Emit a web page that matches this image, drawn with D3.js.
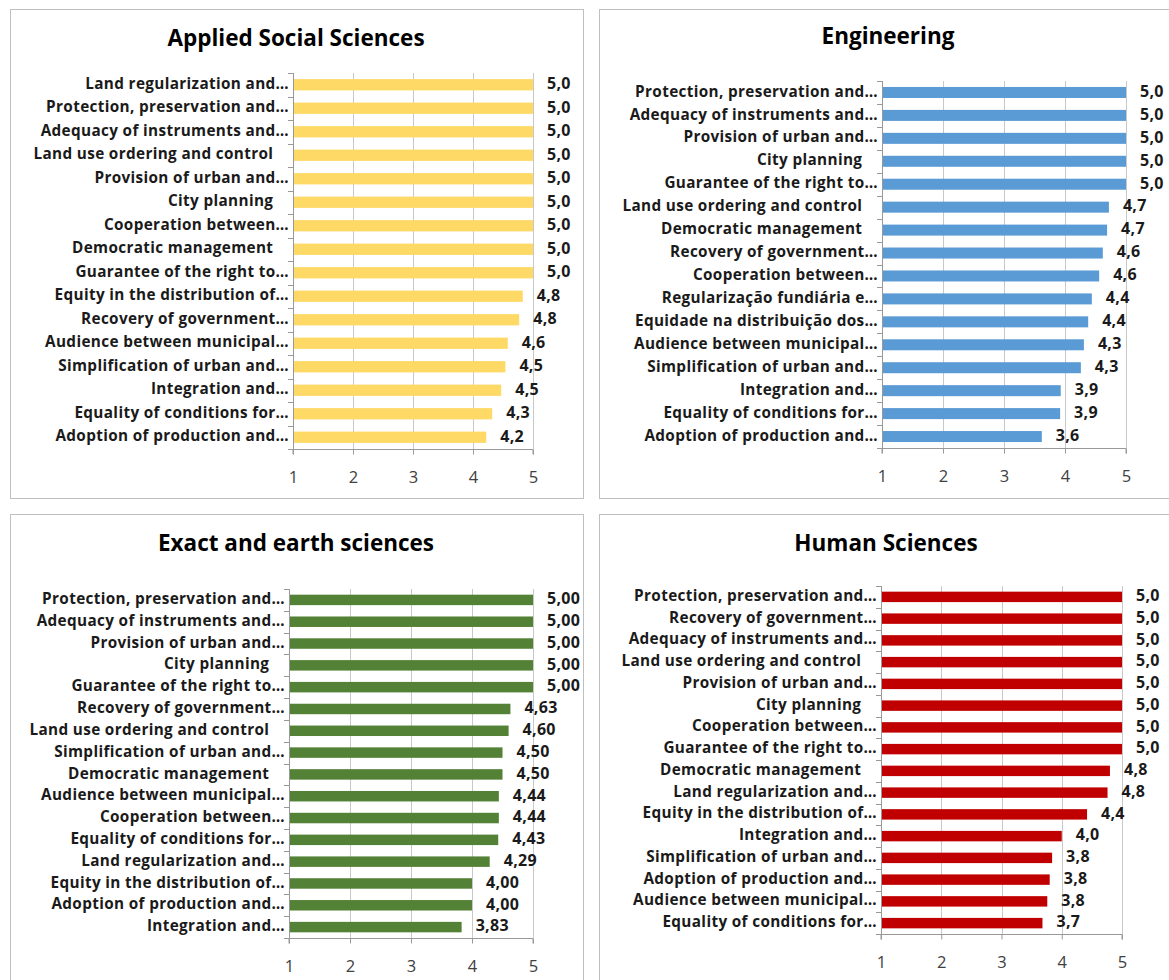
<!DOCTYPE html>
<html>
<head>
<meta charset="utf-8">
<script src="https://cdn.jsdelivr.net/npm/d3@7"></script>
<style>
  body { margin: 0; background: #fff; }
  svg { font-family: "Open Sans", "Liberation Sans", sans-serif; }
</style>
</head>
<body>
<svg id="chart" width="1169" height="980"></svg>
<script>
// ---- data ----
const titles = ["Applied Social Sciences", "Engineering", "Exact and earth sciences", "Human Sciences"];

const socialCats = [
    "Land regularization and…", "Protection, preservation and…", "Adequacy of instruments and…",
    "Land use ordering and control\u2003", "Provision of urban and…", "City planning\u2003",
    "Cooperation between…", "Democratic management\u2003", "Guarantee of the right to…",
    "Equity in the distribution of…", "Recovery of government…", "Audience between municipal…",
    "Simplification of urban and…", "Integration and…", "Equality of conditions for…",
    "Adoption of production and…"
];
const socialVals = [5, 5, 5, 5, 5, 5, 5, 5, 5, 4.83, 4.77, 4.58, 4.54, 4.47, 4.32, 4.22];

const engCats = [
    "Protection, preservation and…", "Adequacy of instruments and…", "Provision of urban and…",
    "City planning\u2003", "Guarantee of the right to…", "Land use ordering and control\u2003",
    "Democratic management\u2003", "Recovery of government…", "Cooperation between…",
    "Regularização fundiária e…", "Equidade na distribuição dos…", "Audience between municipal…",
    "Simplification of urban and…", "Integration and…", "Equality of conditions for…",
    "Adoption of production and…"
];
const engVals = [5, 5, 5, 5, 5, 4.72, 4.69, 4.62, 4.56, 4.44, 4.38, 4.31, 4.26, 3.93, 3.92, 3.62];

const exactCats = [
    "Protection, preservation and…", "Adequacy of instruments and…", "Provision of urban and…",
    "City planning\u2003", "Guarantee of the right to…", "Recovery of government…",
    "Land use ordering and control\u2003", "Simplification of urban and…", "Democratic management\u2003",
    "Audience between municipal…", "Cooperation between…", "Equality of conditions for…",
    "Land regularization and…", "Equity in the distribution of…", "Adoption of production and…",
    "Integration and…"
];
const exactVals = [5, 5, 5, 5, 5, 4.63, 4.60, 4.50, 4.50, 4.44, 4.44, 4.43, 4.29, 4.00, 4.00, 3.83];

const humanCats = [
    "Protection, preservation and…", "Recovery of government…", "Adequacy of instruments and…",
    "Land use ordering and control\u2003", "Provision of urban and…", "City planning\u2003",
    "Cooperation between…", "Guarantee of the right to…", "Democratic management\u2003",
    "Land regularization and…", "Equity in the distribution of…", "Integration and…",
    "Simplification of urban and…", "Adoption of production and…", "Audience between municipal…",
    "Equality of conditions for…"
];
const humanVals = [5, 5, 5, 5, 5, 5, 5, 5, 4.80, 4.76, 4.42, 4.00, 3.84, 3.80, 3.76, 3.68];

const xTicks = [1, 2, 3, 4, 5];

// ---- layout of each panel ----
const panels = [
    { title: titles[0], cats: socialCats, vals: socialVals, color: "#FFD966", decimals: 1,
      box: [10, 9, 573, 489], titleX: 296, titleY: 40, x0: 293, x1: 533, top: 73, bottom: 449 },
    { title: titles[1], cats: engCats, vals: engVals, color: "#5B9BD5", decimals: 1,
      box: [599, 9, 575, 489], titleX: 888, titleY: 38, x0: 882, x1: 1126, top: 81, bottom: 448 },
    { title: titles[2], cats: exactCats, vals: exactVals, color: "#538135", decimals: 2,
      box: [10, 514, 573, 480], titleX: 296, titleY: 545, x0: 289, x1: 533, top: 589, bottom: 938 },
    { title: titles[3], cats: humanCats, vals: humanVals, color: "#C00000", decimals: 1,
      box: [599, 514, 575, 480], titleX: 886, titleY: 545, x0: 881, x1: 1122, top: 586, bottom: 934 }
];

const svg = d3.select("#chart");

function fmt(v, d) {
    return v.toFixed(d).replace(".", ",");
}

function drawPanel(p) {
    const g = svg.append("g");

    // frame
    g.append("rect")
        .attr("x", p.box[0] + 0.5).attr("y", p.box[1] + 0.5)
        .attr("width", p.box[2]).attr("height", p.box[3])
        .attr("fill", "#fff")
        .attr("stroke", "#bfbfbf");

    g.append("text")
        .attr("x", p.titleX).attr("y", p.titleY)
        .attr("text-anchor", "middle")
        .attr("dominant-baseline", "middle")
        .style("font-size", "22.5px")
        .style("font-weight", "bold")
        .attr("fill", "#000")
        .text(p.title);

    const x = d3.scaleLinear().domain([1, 5]).range([p.x0, p.x1]);
    const y = d3.scaleBand().domain(p.cats).range([p.top, p.bottom]).paddingInner(0.52).paddingOuter(0.26);

    // vertical gridlines
    g.append("g")
        .selectAll("line")
        .data(xTicks.slice(1))
        .join("line")
        .attr("x1", d => Math.round(x(d)) + 0.5).attr("x2", d => Math.round(x(d)) + 0.5)
        .attr("y1", p.top).attr("y2", p.bottom)
        .attr("stroke", "#c8c8c8");

    // bars
    g.append("g")
        .selectAll("rect")
        .data(p.vals)
        .join("rect")
        .attr("x", x(1))
        .attr("y", (d, i) => y(p.cats[i]))
        .attr("width", d => x(d) - x(1))
        .attr("height", y.bandwidth())
        .attr("fill", p.color);

    // value labels
    g.append("g")
        .selectAll("text")
        .data(p.vals)
        .join("text")
        .attr("x", d => x(d) + 14)
        .attr("y", (d, i) => y(p.cats[i]) + y.bandwidth() / 2)
        .attr("dominant-baseline", "middle")
        .style("font-size", "16px")
        .style("font-weight", "bold")
        .style("letter-spacing", "0.3px")
        .attr("fill", "#1a1a1a")
        .text(d => fmt(d, p.decimals));

    // x axis
    const xAxis = g.append("g")
        .attr("transform", `translate(0,${Math.round(p.bottom) + 0.5})`)
        .call(d3.axisBottom(x).tickValues(xTicks).tickSize(5).tickPadding(17).tickFormat(d3.format("d")));
    xAxis.select(".domain").attr("stroke", "#999").attr("d", `M${x(1)},5V0H${x(5)}V5`);
    xAxis.selectAll(".tick line").attr("stroke", "#999");
    xAxis.selectAll(".tick text")
        .style("font-size", "16.5px")
        .style("font-family", "'Open Sans', sans-serif")
        .attr("fill", "#404040");

    // category axis: line with ticks between categories
    const ca = g.append("g");
    ca.append("line")
        .attr("x1", Math.round(x(1)) + 0.5).attr("x2", Math.round(x(1)) + 0.5)
        .attr("y1", p.top).attr("y2", p.bottom)
        .attr("stroke", "#999");
    ca.selectAll("line.tk")
        .data(d3.range(p.cats.length + 1))
        .join("line")
        .attr("class", "tk")
        .attr("x1", Math.round(x(1)) - 5).attr("x2", Math.round(x(1)))
        .attr("y1", i => Math.round(p.top + i * (p.bottom - p.top) / p.cats.length) + 0.5)
        .attr("y2", i => Math.round(p.top + i * (p.bottom - p.top) / p.cats.length) + 0.5)
        .attr("stroke", "#999");
    ca.selectAll("text")
        .data(p.cats)
        .join("text")
        .attr("x", x(1) - 4)
        .attr("y", d => y(d) + y.bandwidth() / 2)
        .attr("text-anchor", "end")
        .attr("dominant-baseline", "middle")
        .style("font-size", "15.3px")
        .style("font-weight", "bold")
        .style("letter-spacing", "0.35px")
        .attr("fill", "#1a1a1a")
        .text(d => d);
}

panels.forEach(drawPanel);
</script>
</body>
</html>
